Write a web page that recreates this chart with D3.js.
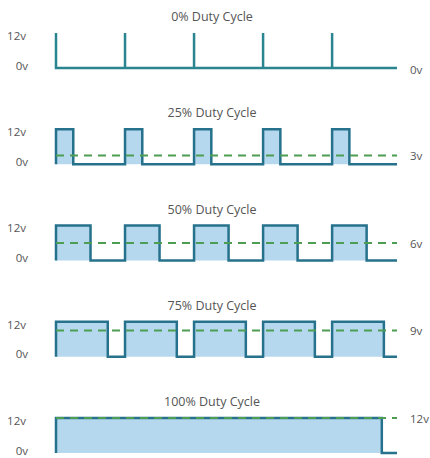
<!DOCTYPE html>
<html>
<head>
	<meta charset="utf-8">
	<title>PWM Duty Cycle</title>
	<style>
		body { margin: 0; background: #fff; }
		text { font-family: "Open Sans", sans-serif; fill: #555; }
	</style>
</head>
<body>
	<svg id="chart" width="430" height="458"></svg>
<script src="https://cdn.jsdelivr.net/npm/d3@7"></script>
<script>
	// duty cycles, one panel each
	const duties = [0, 25, 50, 75, 100]
	const titles = ["0% Duty Cycle", "25% Duty Cycle", "50% Duty Cycle", "75% Duty Cycle", "100% Duty Cycle"]
	// average voltage of each wave
	const averages = [0, 3, 6, 9, 12]
	const levelTicks = [12, 0]
	// pulses as [rise, fall], time measured in periods
	const pulses0 = [[0, 0], [1, 1], [2, 2], [3, 3], [4, 4]]
	const pulses25 = [[0, 0.25], [1, 1.25], [2, 2.25], [3, 3.25], [4, 4.25]]
	const pulses50 = [[0, 0.5], [1, 1.5], [2, 2.5], [3, 3.5], [4, 4.5]]
	const pulses75 = [[0, 0.75], [1, 1.75], [2, 2.75], [3, 3.75], [4, 4.75]]
	const pulses100 = [[0, 4.72]]
	const tEnd = 4.94

	const allPulses = [pulses0, pulses25, pulses50, pulses75, pulses100]

	const svg = d3.select("#chart")
	// x: time, y: voltage inside a panel, py: panel position
	const x = d3.scaleLinear().domain([0, tEnd]).range([56, 397])
	const y = d3.scaleLinear().domain([0, 12]).range([35, 0])
	const py = d3.scalePoint().domain(duties).range([33, 418])

	const line = d3.line().x(d => x(d[0])).y(d => y(d[1]))
	const area = d3.area().x(d => x(d[0])).y0(y(0)).y1(d => y(d[1]))

	duties.forEach((duty, i) => {
		const g = svg.append("g").attr("transform", `translate(0,${py(duty)})`)
		const pulses = allPulses[i]

		// waveform points
		let pts = []
		pulses.forEach(p => {
			pts.push([p[0], 0], [p[0], 12], [p[1], 12], [p[1], 0])
		})
		pts.push([tEnd, 0])

		//填充
		g.selectAll("path.fill").data(pulses).enter().append("path")
			.attr("class", "fill")
			.attr("fill", "#b6d8ee")
			.attr("d", p => area([[p[0], 12], [p[1], 12]]))

		//波形
		const wave = g.append("path")
			.attr("fill", "none")
			.attr("stroke", duty === 0 ? "#2a8590" : "#26718b").attr("stroke-width", 2.5)
			.attr("d", line(pts))

		//平均电压 (0v 时藏在波形下面)
		const avg = g.append("path")
			.attr("fill", "none")
			.attr("stroke", "#4d9e52").attr("stroke-width", 2)
			.attr("stroke-dasharray", "8,6")
			.attr("d", line([[0, averages[i]], [tEnd, averages[i]]]))
		if (averages[i] === 0) avg.lower()

		// title
		g.append("text")
			.attr("x", 212).attr("y", -12)
			.attr("text-anchor", "middle")
			.attr("font-size", 12.5)
			.text(titles[i])

		// left levels
		const left = g.append("g").attr("transform", "translate(31,0)")
			.call(d3.axisLeft(y).tickValues(levelTicks).tickSize(0).tickFormat(d => d + "v"))
		left.select(".domain").remove()
		left.selectAll("text")
			.attr("font-family", null).attr("font-size", 11.5)
			.attr("fill", "#555")
			.attr("dx", d => d === 12 ? -2 : 0)
			.attr("dy", d => d === 12 ? "0.55em" : "0.1em")

		// right average label
		const right = g.append("g").attr("transform", "translate(407,0)")
			.call(d3.axisRight(y).tickValues([averages[i]]).tickSize(0).tickFormat(d => d + "v"))
		right.select(".domain").remove()
		right.selectAll("text")
			.attr("font-family", null).attr("font-size", 11.5)
			.attr("fill", "#555")
			.attr("dy", d => d === 0 ? "0.45em" : "0.35em")
	})
</script>
</body>
</html>
